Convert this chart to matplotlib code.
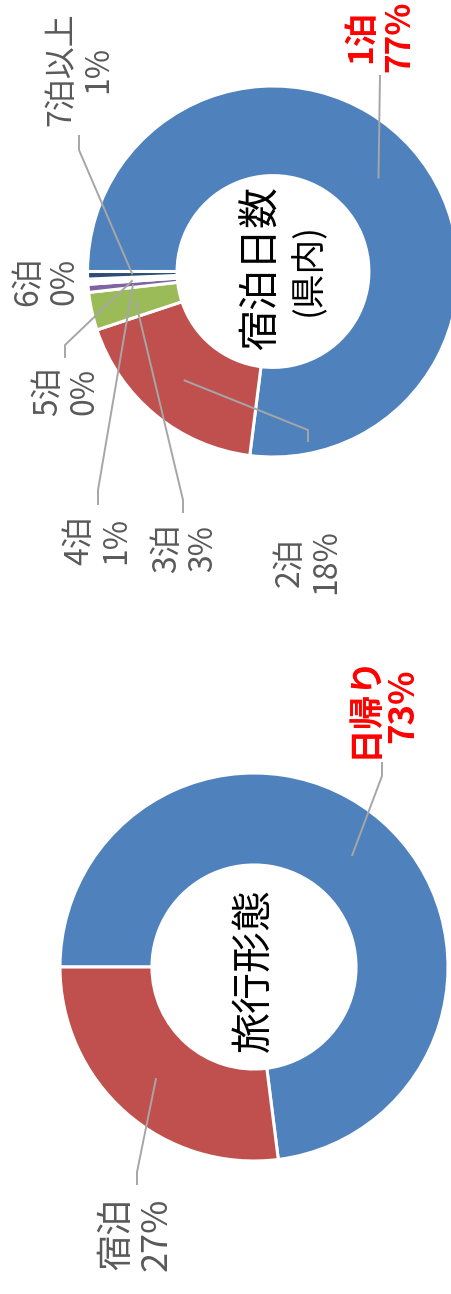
import numpy as np
import matplotlib
matplotlib.use('Agg')
import matplotlib.pyplot as plt

plt.rcParams['font.family'] = ['Noto Sans CJK JP', 'DejaVu Sans']

# 宿泊日数（県内）
stay_names = ['1泊', '2泊', '3泊', '4泊', '5泊', '6泊', '7泊以上']
stay_vals = [77.0, 17.9, 3.3, 0.7, 0.2, 0.25, 0.65]
stay_colors = ['#4F81BD', '#C0504D', '#9BBB59', '#8064A2', '#4BACC6', '#F79646', '#2C4D75']

# 旅行形態
trip_names = ['日帰り', '宿泊']
trip_vals = [73.0, 27.0]
trip_colors = ['#4F81BD', '#C0504D']

W, H = 451, 1294
fig = plt.figure(figsize=(W / 100, H / 100), dpi=100)
ax = fig.add_axes([0, 0, 1, 1])


def py(y):
    # picture y (downwards) -> data y (upwards)
    return H - y


def donut(vals, colors, center, r, hole):
    wedges, _ = ax.pie(vals, colors=colors, center=(center[0], py(center[1])),
                       radius=r, startangle=180, counterclock=False,
                       wedgeprops=dict(width=r * (1 - hole), edgecolor='white', linewidth=2.2))
    return wedges


def label(wedge, text, pos, elbow, end, r_mid, size, ls, red=False):
    cx, cy = wedge.center
    ang = np.deg2rad((wedge.theta1 + wedge.theta2) / 2)
    if end is not None:
        sx, sy = cx + r_mid * np.cos(ang), cy + r_mid * np.sin(ang)
        ax.plot([sx, elbow[0], end[0]], [sy, py(elbow[1]), py(end[1])],
                color='#A6A6A6', lw=1.4, solid_capstyle='butt')
    ax.text(pos[0], py(pos[1]), text, rotation=90, ha='center', va='center',
            multialignment='center', linespacing=ls, fontsize=size,
            color='#FF0000' if red else '#595959',
            fontweight='bold' if red else 'normal')


def pct_texts(names, vals):
    tot = sum(vals)
    return [f'{n}\n{round(v / tot * 100):.0f}%' for n, v in zip(names, vals)]


# top donut: 宿泊日数
top_c, top_r = (273, 271.5), 185.5
w1 = donut(stay_vals, stay_colors, top_c, top_r, 0.517)
stay_pos = [(381, 36), (308, 562), (185, 548), (98, 540), (66, 391), (46, 281), (80, 69)]
stay_elbow = [(380, 75), (308, 430), (183, 500), (98, 490), (65, 345), None, (79, 150)]
stay_end = [(380, 75), (308, 442), (183, 513), (98, 505), (65, 358), None, (79, 135)]
for i, t in enumerate(pct_texts(stay_names, stay_vals)):
    label(w1[i], t, stay_pos[i], stay_elbow[i], stay_end[i], top_r * 0.758,
          24 if i == 0 else 23, 1.18, red=(i == 0))

ax.text(262, py(268), '宿泊日数', rotation=90, ha='center', va='center', fontsize=29.5, color='black')
ax.text(308, py(269), '(県内)', rotation=90, ha='center', va='center', fontsize=25, color='black')

# bottom donut: 旅行形態
bot_c, bot_r = (254, 967), 194
w2 = donut(trip_vals, trip_colors, bot_c, bot_r, 0.526)
trip_pos = [(383, 706), (137, 1234)]
trip_elbow = [(382, 776), (137, 1172)]
trip_end = [(382, 762), (137, 1185)]
for i, t in enumerate(pct_texts(trip_names, trip_vals)):
    label(w2[i], t, trip_pos[i], trip_elbow[i], trip_end[i], bot_r * 0.763,
          25 if i == 0 else 26, 1.13, red=(i == 0))

ax.text(254, py(970), '旅行形態', rotation=90, ha='center', va='center', fontsize=29.5, color='black')

ax.set_xlim(0, W)
ax.set_ylim(0, H)
ax.axis('off')

fig.savefig('out.png', dpi=100)
